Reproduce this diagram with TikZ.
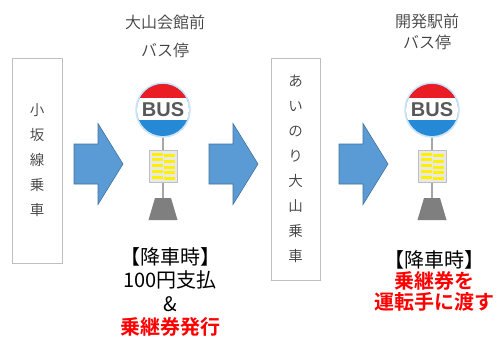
\documentclass[tikz,border=0pt]{standalone}
\usepackage{fontspec}
\setmainfont{Noto Sans CJK JP}[BoldFont={Noto Sans CJK JP Bold}]
\newfontfamily\lightfont{Noto Sans CJK JP DemiLight}
\newfontfamily\busfont{Liberation Sans}
\definecolor{ArwFill}{RGB}{91,155,213}
\definecolor{ArwLine}{RGB}{65,113,156}
\definecolor{BusRed}{RGB}{234,28,36}
\definecolor{BusBlue}{RGB}{38,137,214}
\definecolor{BusGlow}{RGB}{205,228,246}
\definecolor{BusText}{RGB}{89,89,89}
\definecolor{BoxLine}{RGB}{191,191,191}
\definecolor{Txt}{RGB}{64,64,64}
\definecolor{Pole}{RGB}{166,166,166}
\definecolor{Base}{RGB}{127,127,127}
\definecolor{Panel}{RGB}{232,232,232}
\definecolor{Stripe}{RGB}{255,240,0}
\def\ArrowY{164}
\def\SignY{110}
\def\SignR{26}

\begin{document}
\begin{tikzpicture}[x=1pt,y=-1pt,
    linebox/.style={draw=BoxLine,line width=0.8pt,fill=white,align=center,text=Txt,font=\lightfont\fontsize{14.5}{25}\selectfont,inner sep=0pt},
    stoplabel/.style={align=center,text=Txt,font=\lightfont\fontsize{16}{28}\selectfont},
    paytext/.style={align=center,font=\fontsize{20}{23.3}\selectfont}]
    \path[use as bounding box] (0,0) rectangle (498,338);
    \node[linebox,minimum width=50pt,minimum height=205pt] (rideA) at (37,160.5) {小\\坂\\線\\乗\\車};
    \node[linebox,minimum width=49pt,minimum height=222pt] (rideB) at (295.5,169) {あ\\い\\の\\り\\大\\山\\乗\\車};
    \foreach \A/\X in {A/74,B/209,C/339} {
        \draw[ArwLine,fill=ArwFill,line width=0.6pt,line join=miter] (\X,{\ArrowY-20}) -- ({\X+24},{\ArrowY-20}) -- ({\X+24},{\ArrowY-40.5}) -- ({\X+49},\ArrowY) -- ({\X+24},{\ArrowY+40.5}) -- ({\X+24},{\ArrowY+20}) -- (\X,{\ArrowY+20}) -- cycle;
    }
    \foreach \S/\X in {A/163,B/432} {
        \draw[Pole,line width=2.5pt] (\X,\SignY) -- (\X,200);
        \fill[BusGlow] (\X,\SignY) circle ({\SignR+1.8});
        \begin{scope}
            \clip (\X,\SignY) circle (\SignR);
            \fill[BusBlue] ({\X-\SignR},{\SignY-\SignR}) rectangle ({\X+\SignR},{\SignY+\SignR});
            \fill[BusRed] ({\X-\SignR},{\SignY-\SignR}) rectangle ({\X+\SignR},{\SignY-12});
            \fill[white] ({\X-\SignR},{\SignY-12}) rectangle ({\X+\SignR},{\SignY+9.5});
        \end{scope}
        \node[BusText,font=\busfont\fontsize{20}{20}\selectfont\bfseries,inner sep=0pt] (bus\S) at (\X,{\SignY-0.5}) {BUS};
        \draw[BoxLine,fill=Panel,line width=0.5pt] ({\X-14},150) rectangle ({\X+14},182);
        \foreach \k in {0,...,4} {
            \fill[Stripe] ({\X-11},{152.5+5.8*\k}) rectangle ({\X-0.5},{155.5+5.8*\k});
            \fill[Stripe] ({\X+0.5},{154+5.8*\k}) rectangle ({\X+11.5},{157+5.8*\k});
        }
        \fill[Base] ({\X-8},198) -- ({\X+8},198) -- ({\X+14.5},220) -- ({\X-14.5},220) -- cycle;
    }
    \node[stoplabel] (stopA) at (165,36) {大山会館前\\バス停};
    \node[stoplabel,font=\lightfont\fontsize{16}{21}\selectfont] (stopB) at (427,31.5) {開発駅前\\バス停};
    \node[paytext] (payA) at (170,292) {【降車時】\\100円支払\\\&\\\textcolor{red}{\bfseries 乗継券発行}};
    \node[paytext,font=\fontsize{20}{21}\selectfont] (payB) at (434,281) {【降車時】\\\textcolor{red}{\bfseries 乗継券を}\\\textcolor{red}{\bfseries 運転手に渡す}};
\end{tikzpicture}
\end{document}
